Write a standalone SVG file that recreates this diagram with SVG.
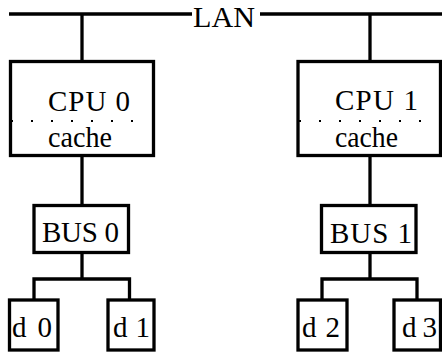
<svg xmlns="http://www.w3.org/2000/svg" width="442" height="354" viewBox="0 0 442 354">
<style>
.box{fill:#fff;stroke:#000;stroke-width:3.3}
.ln{stroke:#000;stroke-width:3.3;fill:none;stroke-linecap:butt}
.dots{stroke:#000;stroke-width:2;stroke-dasharray:2 18}
text{font-family:"Liberation Serif","DejaVu Serif",serif;font-size:29px;fill:#000}
</style>
<rect width="442" height="354" fill="#fff"/>
<g id="connectors">
<line class="ln" x1="82" y1="14" x2="82" y2="64"/>
<line class="ln" x1="370" y1="14" x2="370" y2="64"/>
<line class="ln" x1="82" y1="156" x2="82" y2="206"/>
<line class="ln" x1="370" y1="156" x2="370" y2="206"/>
<polyline class="ln" points="82,253 82,279"/>
<polyline class="ln" points="34,303 34,279 129.5,279 129.5,303"/>
<polyline class="ln" points="370,253 370,279"/>
<polyline class="ln" points="322,303 322,279 417,279 417,303"/>
</g>
<g id="lan">
<line class="ln" x1="9" y1="14" x2="192" y2="14"/>
<line class="ln" x1="260" y1="14" x2="442" y2="14"/>
<text x="193" y="27" textLength="62" lengthAdjust="spacingAndGlyphs">LAN</text>
</g>
<g id="cpu0">
<rect class="box" x="10.5" y="61.5" width="143" height="94"/>
<text x="48" y="111" textLength="82" lengthAdjust="spacing">CPU 0</text>
<line class="dots" x1="11" y1="121" x2="134" y2="121"/>
<text x="48" y="147" textLength="64" lengthAdjust="spacingAndGlyphs">cache</text>
</g>
<g id="cpu1">
<rect class="box" x="298" y="61.5" width="142.5" height="94"/>
<text x="335" y="110" textLength="83" lengthAdjust="spacing">CPU 1</text>
<line class="dots" x1="299" y1="121" x2="424" y2="121"/>
<text x="335" y="147" textLength="63" lengthAdjust="spacingAndGlyphs">cache</text>
</g>
<g id="bus0">
<rect class="box" x="34" y="205.5" width="94.5" height="47"/>
<text x="42" y="242" textLength="77" lengthAdjust="spacing">BUS 0</text>
</g>
<g id="bus1">
<rect class="box" x="321.5" y="205.5" width="94.5" height="47"/>
<text x="330" y="243" textLength="82" lengthAdjust="spacing">BUS 1</text>
</g>
<g id="d0">
<rect class="box" x="9.5" y="300" width="48.5" height="50"/>
<text x="12" y="337" textLength="40" lengthAdjust="spacing">d 0</text>
</g>
<g id="d1">
<rect class="box" x="108" y="300" width="46" height="50"/>
<text x="113" y="337" textLength="37" lengthAdjust="spacing">d 1</text>
</g>
<g id="d2">
<rect class="box" x="298" y="300" width="49" height="50"/>
<text x="302" y="337" textLength="38" lengthAdjust="spacing">d 2</text>
</g>
<g id="d3">
<rect class="box" x="394" y="300" width="46.5" height="50"/>
<text x="402" y="337" textLength="35" lengthAdjust="spacing">d 3</text>
</g>
</svg>
